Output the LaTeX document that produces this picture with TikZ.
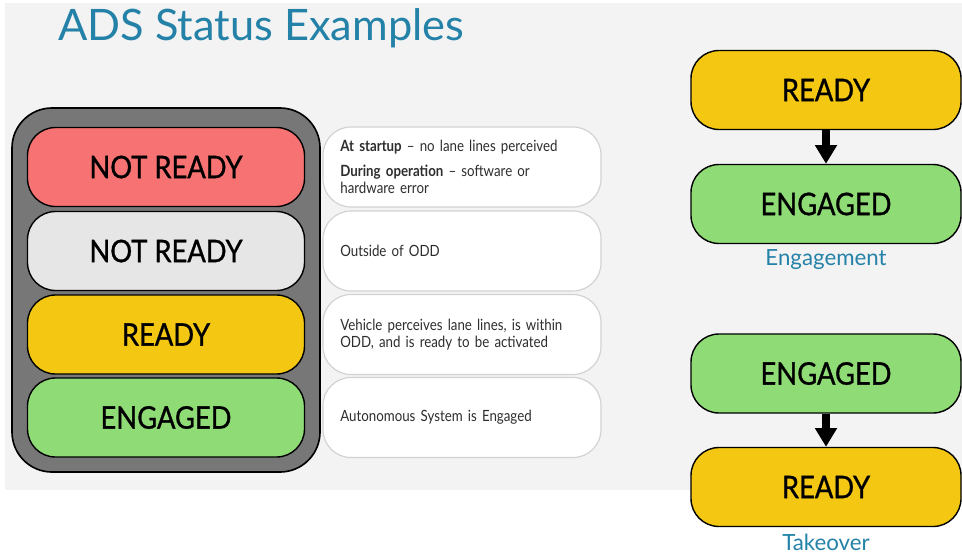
\documentclass[tikz,border=0pt]{standalone}
\usepackage{fontspec}
\setmainfont{Lato}
\newfontfamily\boxfont[FakeStretch=0.88,FakeBold=0.9]{Lato}
\newfontfamily\descfont[FakeStretch=0.86]{Lato}
\usepackage{tikz}
\usetikzlibrary{arrows.meta}
\definecolor{slidebg}{HTML}{F3F3F3}
\definecolor{titleblue}{HTML}{2482A8}
\definecolor{redstate}{HTML}{F77272}
\definecolor{greystate}{HTML}{E6E6E6}
\definecolor{yellowstate}{HTML}{F3C712}
\definecolor{greenstate}{HTML}{8FDB76}
\definecolor{outergrey}{HTML}{777777}
\definecolor{descline}{HTML}{D2D2D2}

\begin{document}
\begin{tikzpicture}[x=0.03cm,y=-0.03cm,
  statebox/.style={draw=black,line width=1.2pt,rounded corners=0.84cm,
    minimum width=8.31cm,minimum height=2.37cm,font=\boxfont\fontsize{26.5}{30}\selectfont},
  descbox/.style={draw=descline,fill=white,line width=1pt,rounded corners=0.84cm,
    minimum width=8.34cm,minimum height=2.4cm,text width=7.3cm,inner xsep=0.51cm,
    align=left,font=\descfont\fontsize{13.2}{15}\selectfont,text=black!82},
  sidebox/.style={statebox,minimum width=8.1cm},
  caption/.style={text=titleblue,font=\fontsize{19}{22}\selectfont},
  bigarrow/.style={line width=6.5pt,-{Triangle[width=18pt,length=16pt]}}]
\useasboundingbox (0,0) rectangle (962,554);
\fill[white] (0,0) rectangle (962,554);
\fill[slidebg] (5,3) rectangle (962,490);
% title
\node[anchor=base west,inner sep=0pt,text=titleblue,font=\fontsize{37}{42}\selectfont] (title) at (58,40) {ADS Status Examples};
% status column
\draw[fill=outergrey,line width=1.4pt,rounded corners=1.2cm] (12,108) rectangle (320,472);
\node[statebox,fill=redstate] (nr1) at (166,167) {NOT READY};
\node[statebox,fill=greystate] (nr2) at (166,251) {NOT READY};
\node[statebox,fill=yellowstate] (rdy) at (166,334.5) {READY};
\node[statebox,fill=greenstate] (eng) at (166,417.5) {ENGAGED};
% descriptions
\node[descbox] (d1) at (462,167) {\textbf{At startup} – no lane lines perceived\\[6pt]
  \textbf{During operation} – software or\\hardware error};
\node[descbox] (d2) at (462,251) {Outside of ODD};
\node[descbox] (d3) at (462,334.5) {Vehicle perceives lane lines, is within\\ODD, and is ready to be activated};
\node[descbox] (d4) at (462,417.5) {Autonomous System is Engaged};
% engagement
\node[sidebox,fill=yellowstate] (er) at (826,90) {READY};
\node[sidebox,fill=greenstate] (ee) at (826,204) {ENGAGED};
\draw[bigarrow] (er) -- (ee);
\node[caption] (engcap) at (826,260) {Engagement};
% takeover
\node[sidebox,fill=greenstate] (te) at (826,373.5) {ENGAGED};
\node[sidebox,fill=yellowstate] (tr) at (826,487) {READY};
\draw[bigarrow] (te) -- (tr);
\node[caption] (takecap) at (826,542) {Takeover};
\end{tikzpicture}
\end{document}
